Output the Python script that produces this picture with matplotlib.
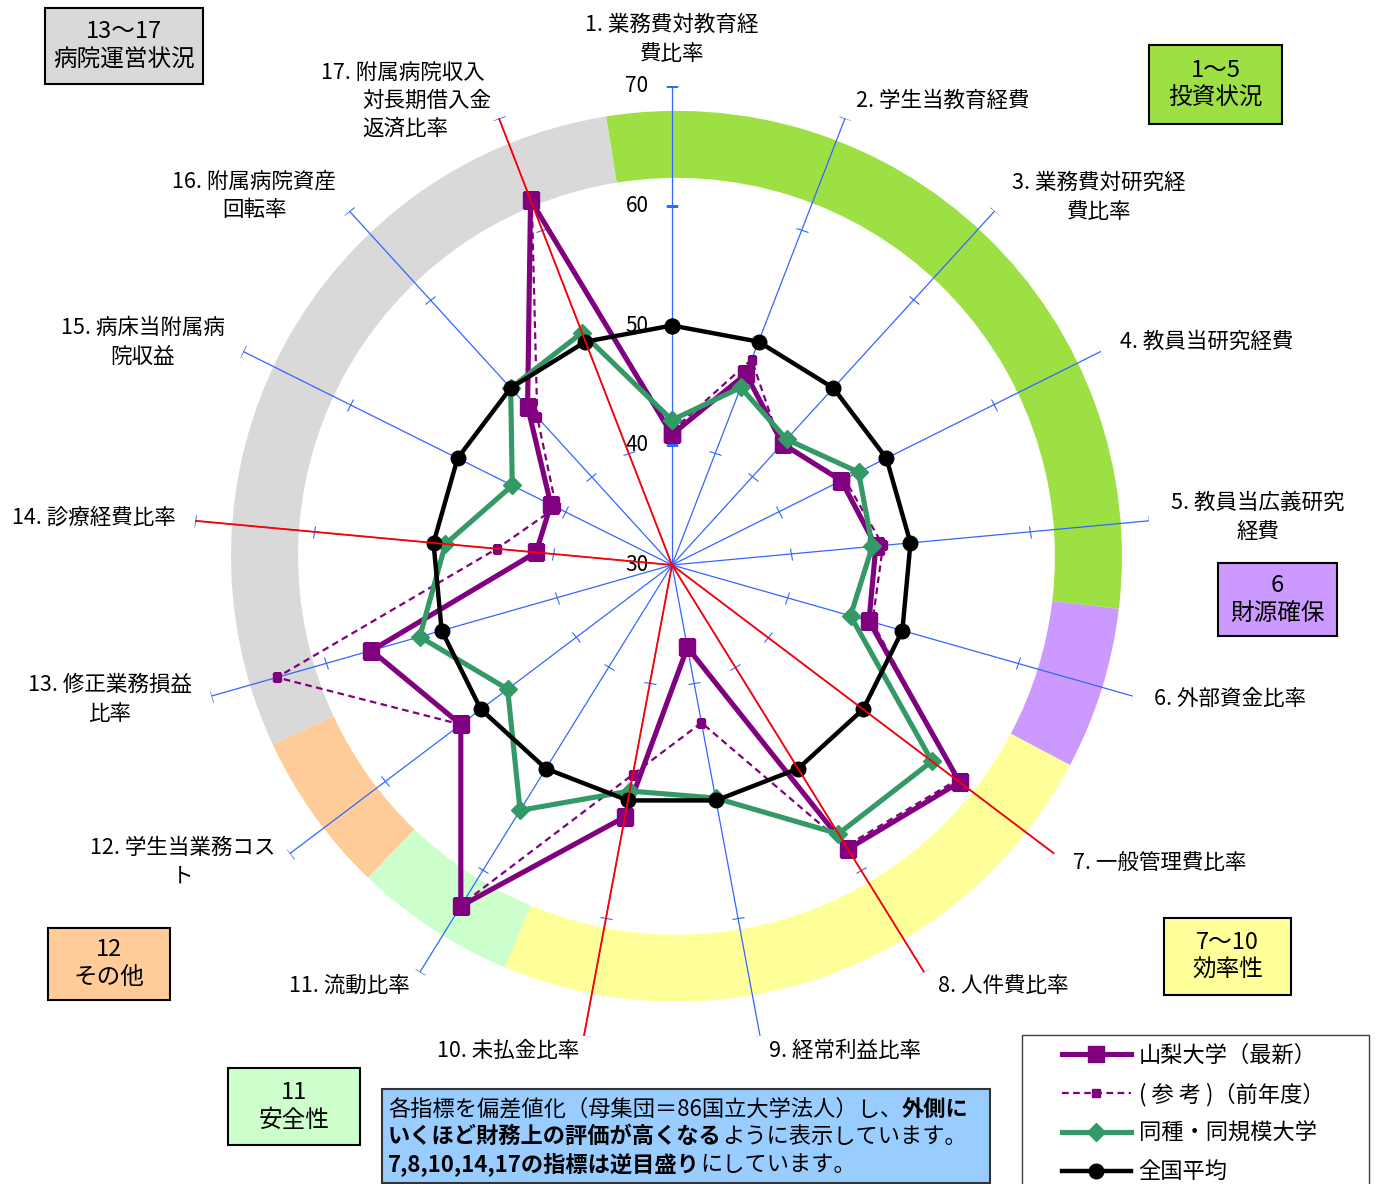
import matplotlib
matplotlib.use('Agg')
import matplotlib.pyplot as plt
import numpy as np
from matplotlib.markers import MarkerStyle
from matplotlib.transforms import Affine2D
from matplotlib.patches import Rectangle

plt.rcParams['font.family'] = ['Noto Sans CJK JP', 'DejaVu Sans']

W, H = 1376, 1184

# axis labels (one entry per line)
labels = [
    ['1. 業務費対教育経', '費比率'],
    ['2. 学生当教育経費'],
    ['3. 業務費対研究経', '費比率'],
    ['4. 教員当研究経費'],
    ['5. 教員当広義研究', '経費'],
    ['6. 外部資金比率'],
    ['7. 一般管理費比率'],
    ['8. 人件費比率'],
    ['9. 経常利益比率'],
    ['10. 未払金比率'],
    ['11. 流動比率'],
    ['12. 学生当業務コス', 'ト'],
    ['13. 修正業務損益', '比率'],
    ['14. 診療経費比率'],
    ['15. 病床当附属病', '院収益'],
    ['16. 附属病院資産', '回転率'],
    ['17. 附属病院収入', '対長期借入金', '返済比率'],
]

series_names = ['山梨大学（最新）', '( 参 考 )（前年度）', '同種・同規模大学', '全国平均']

yamanashi = [40.9, 47.1, 43.7, 45.8, 47.1, 47.1, 60.1, 57.9, 37.0,
             51.4, 63.5, 52.1, 56.1, 41.4, 41.3, 47.9, 62.7]
prev_year = [41.2, 48.4, 43.5, 46.1, 47.7, 47.4, 59.8, 57.6, 43.4,
             47.8, 63.3, 52.1, 64.3, 44.7, 40.8, 46.7, 62.4]
similar = [42.1, 45.9, 44.2, 47.4, 46.8, 45.5, 57.2, 56.4, 49.8,
           49.2, 54.1, 47.2, 51.9, 49.0, 44.9, 50.0, 50.8]
national = [50, 50, 50, 50, 50, 50, 50, 50, 50,
            50, 50, 50, 50, 50, 50, 50, 50]

reverse_axes = [7, 8, 10, 14, 17]
r_ticks = [30, 40, 50, 60, 70]

# outer ring: number of axes in each group
ring_counts = [5, 1, 4, 1, 1, 5]
ring_colors = ['#9de043', '#cc99ff', '#ffff99', '#ccffcc', '#ffcc99', '#d9d9d9']
ring_start = -9.1
ring_inner = 61.6
ring_outer = 67.2

group_boxes = [
    (['13～17', '病院運営状況'], '#d9d9d9', (45, 8, 203, 84)),
    (['1～5', '投資状況'], '#9de043', (1149, 45, 1282, 124)),
    (['6', '財源確保'], '#cc99ff', (1218, 563, 1337, 636)),
    (['7～10', '効率性'], '#ffff99', (1164, 918, 1291, 995)),
    (['12', 'その他'], '#ffcc99', (48, 928, 170, 1000)),
    (['11', '安全性'], '#ccffcc', (228, 1068, 360, 1145)),
]

label_pos = [(672, 25), (943, 101), (1099, 183), (1207, 342), (1258, 503),
             (1230, 699), (1160, 863), (1003, 986), (845, 1051), (508, 1051),
             (349, 986), (183, 848), (110, 685), (94, 518), (143, 328),
             (254, 182), (321, 73)]

note_lines = [
    [('各指標を偏差値化（母集団＝86国立大学法人）し、', 'normal'), ('外側に', 'bold')],
    [('いくほど財務上の評価が高くなる', 'bold'), ('ように表示しています。', 'normal')],
    [('7,8,10,14,17の指標は逆目盛り', 'bold'), ('にしています。', 'normal')],
]

BLUE = '#3366ff'


def px_rect(cx, cy, r):
    return [(cx - r) / W, (H - cy - r) / H, 2 * r / W, 2 * r / H]


def setup_polar(ax):
    ax.set_theta_zero_location('N')
    ax.set_theta_direction(-1)
    ax.set_ylim(30, 70)
    ax.set_axis_off()


def main():
    fig = plt.figure(figsize=(W / 100, H / 100), dpi=100)
    fig.patch.set_facecolor('white')

    n = len(labels)
    step = 2 * np.pi / n
    angles = np.arange(n) * step

    # ring (its centre is slightly off the radar centre)
    ax_ring = fig.add_axes(px_rect(676.5, 556.3, 479), projection='polar')
    setup_polar(ax_ring)
    start = np.deg2rad(ring_start)
    done = 0
    for cnt, col in zip(ring_counts, ring_colors):
        ax_ring.bar(start + (done + cnt / 2) * step, ring_outer - ring_inner,
                    width=cnt * step, bottom=ring_inner, color=col,
                    edgecolor='none', align='center')
        done += cnt

    ax = fig.add_axes(px_rect(672, 565, 479), projection='polar')
    setup_polar(ax)

    # spokes + ticks
    for i, a in enumerate(angles):
        deg = np.rad2deg(a)
        ax.plot([a, a], [30, 70], color=BLUE, lw=0.9, zorder=1)
        tick = MarkerStyle('_', transform=Affine2D().rotate_deg(-deg))
        ax.plot([a] * 4, r_ticks[1:], ls='none', marker=tick, ms=9,
                mec=BLUE, mew=0.8, zorder=1, snap=False)
        if (i + 1) in reverse_axes:
            ax.plot([a, a], [30, 70], color='red', lw=1.3, zorder=10)

    for v in r_ticks:
        ax.annotate(str(v), xy=(0, v), xytext=(-17, 0), textcoords='offset points',
                    ha='right', va='center', fontsize=15)

    th = np.append(angles, angles[0])

    def closed(vals):
        return np.append(vals, vals[0])

    l2, = ax.plot(th, closed(prev_year), color='#800080', lw=1.6, ls=(0, (3, 2)),
                  marker='s', ms=5.5, zorder=3)
    l1, = ax.plot(th, closed(yamanashi), color='#800080', lw=3.7,
                  marker='s', ms=11, zorder=4)
    l3, = ax.plot(th, closed(similar), color='#339966', lw=3.7,
                  marker='D', ms=9, zorder=5)
    l4, = ax.plot(th, closed(national), color='black', lw=3.2,
                  marker='o', ms=10.5, zorder=6)

    ax.legend([l1, l2, l3, l4], series_names, loc='upper left',
              bbox_to_anchor=(1062 / W, 1 - 1044 / H), bbox_transform=fig.transFigure,
              frameon=False, fontsize=16, handlelength=3.1, handletextpad=0.35,
              labelspacing=0.7, borderpad=0, borderaxespad=0, numpoints=1)

    # overlay in pixel coordinates for boxes and labels
    ov = fig.add_axes([0, 0, 1, 1], zorder=5)
    ov.set_xlim(0, W)
    ov.set_ylim(H, 0)
    ov.set_axis_off()

    ov.add_patch(Rectangle((1022, 1035), 347, 160, facecolor='none',
                           edgecolor='#404040', lw=1))

    # axis labels
    for i, lines in enumerate(labels):
        x, y = label_pos[i]
        if i == 16:
            ov.text(x, y, lines[0], fontsize=15.5, ha='left', va='center')
            for k, s in enumerate(lines[1:]):
                ov.text(362, y + 28 * (k + 1), s, fontsize=15.5, ha='left', va='center')
            continue
        for k, s in enumerate(lines):
            ov.text(x, y + 28.5 * k, s, fontsize=15.5, ha='center', va='center')

    # group boxes
    for lines, col, (x0, y0, x1, y1) in group_boxes:
        ov.add_patch(Rectangle((x0, y0), x1 - x0, y1 - y0, facecolor=col,
                               edgecolor='black', lw=1.5))
        cx = (x0 + x1) / 2
        cy = (y0 + y1) / 2
        ov.text(cx, cy - 14, lines[0], fontsize=17, ha='center', va='center')
        ov.text(cx, cy + 14, lines[1], fontsize=17, ha='center', va='center')

    # note box
    ov.add_patch(Rectangle((382, 1089), 608, 94, facecolor='#99ccff',
                           edgecolor='#333333', lw=1.5))
    for k, parts in enumerate(note_lines):
        prev = None
        for s, w in parts:
            if prev is None:
                prev = ov.text(388, 1109 + 27.5 * k, s, fontsize=16, weight=w,
                               ha='left', va='center')
            else:
                prev = ov.annotate(s, xy=(1, 0), xycoords=prev, fontsize=16,
                                   weight=w, ha='left', va='bottom')

    fig.savefig('out.png', dpi=100)


if __name__ == "__main__":
    main()
